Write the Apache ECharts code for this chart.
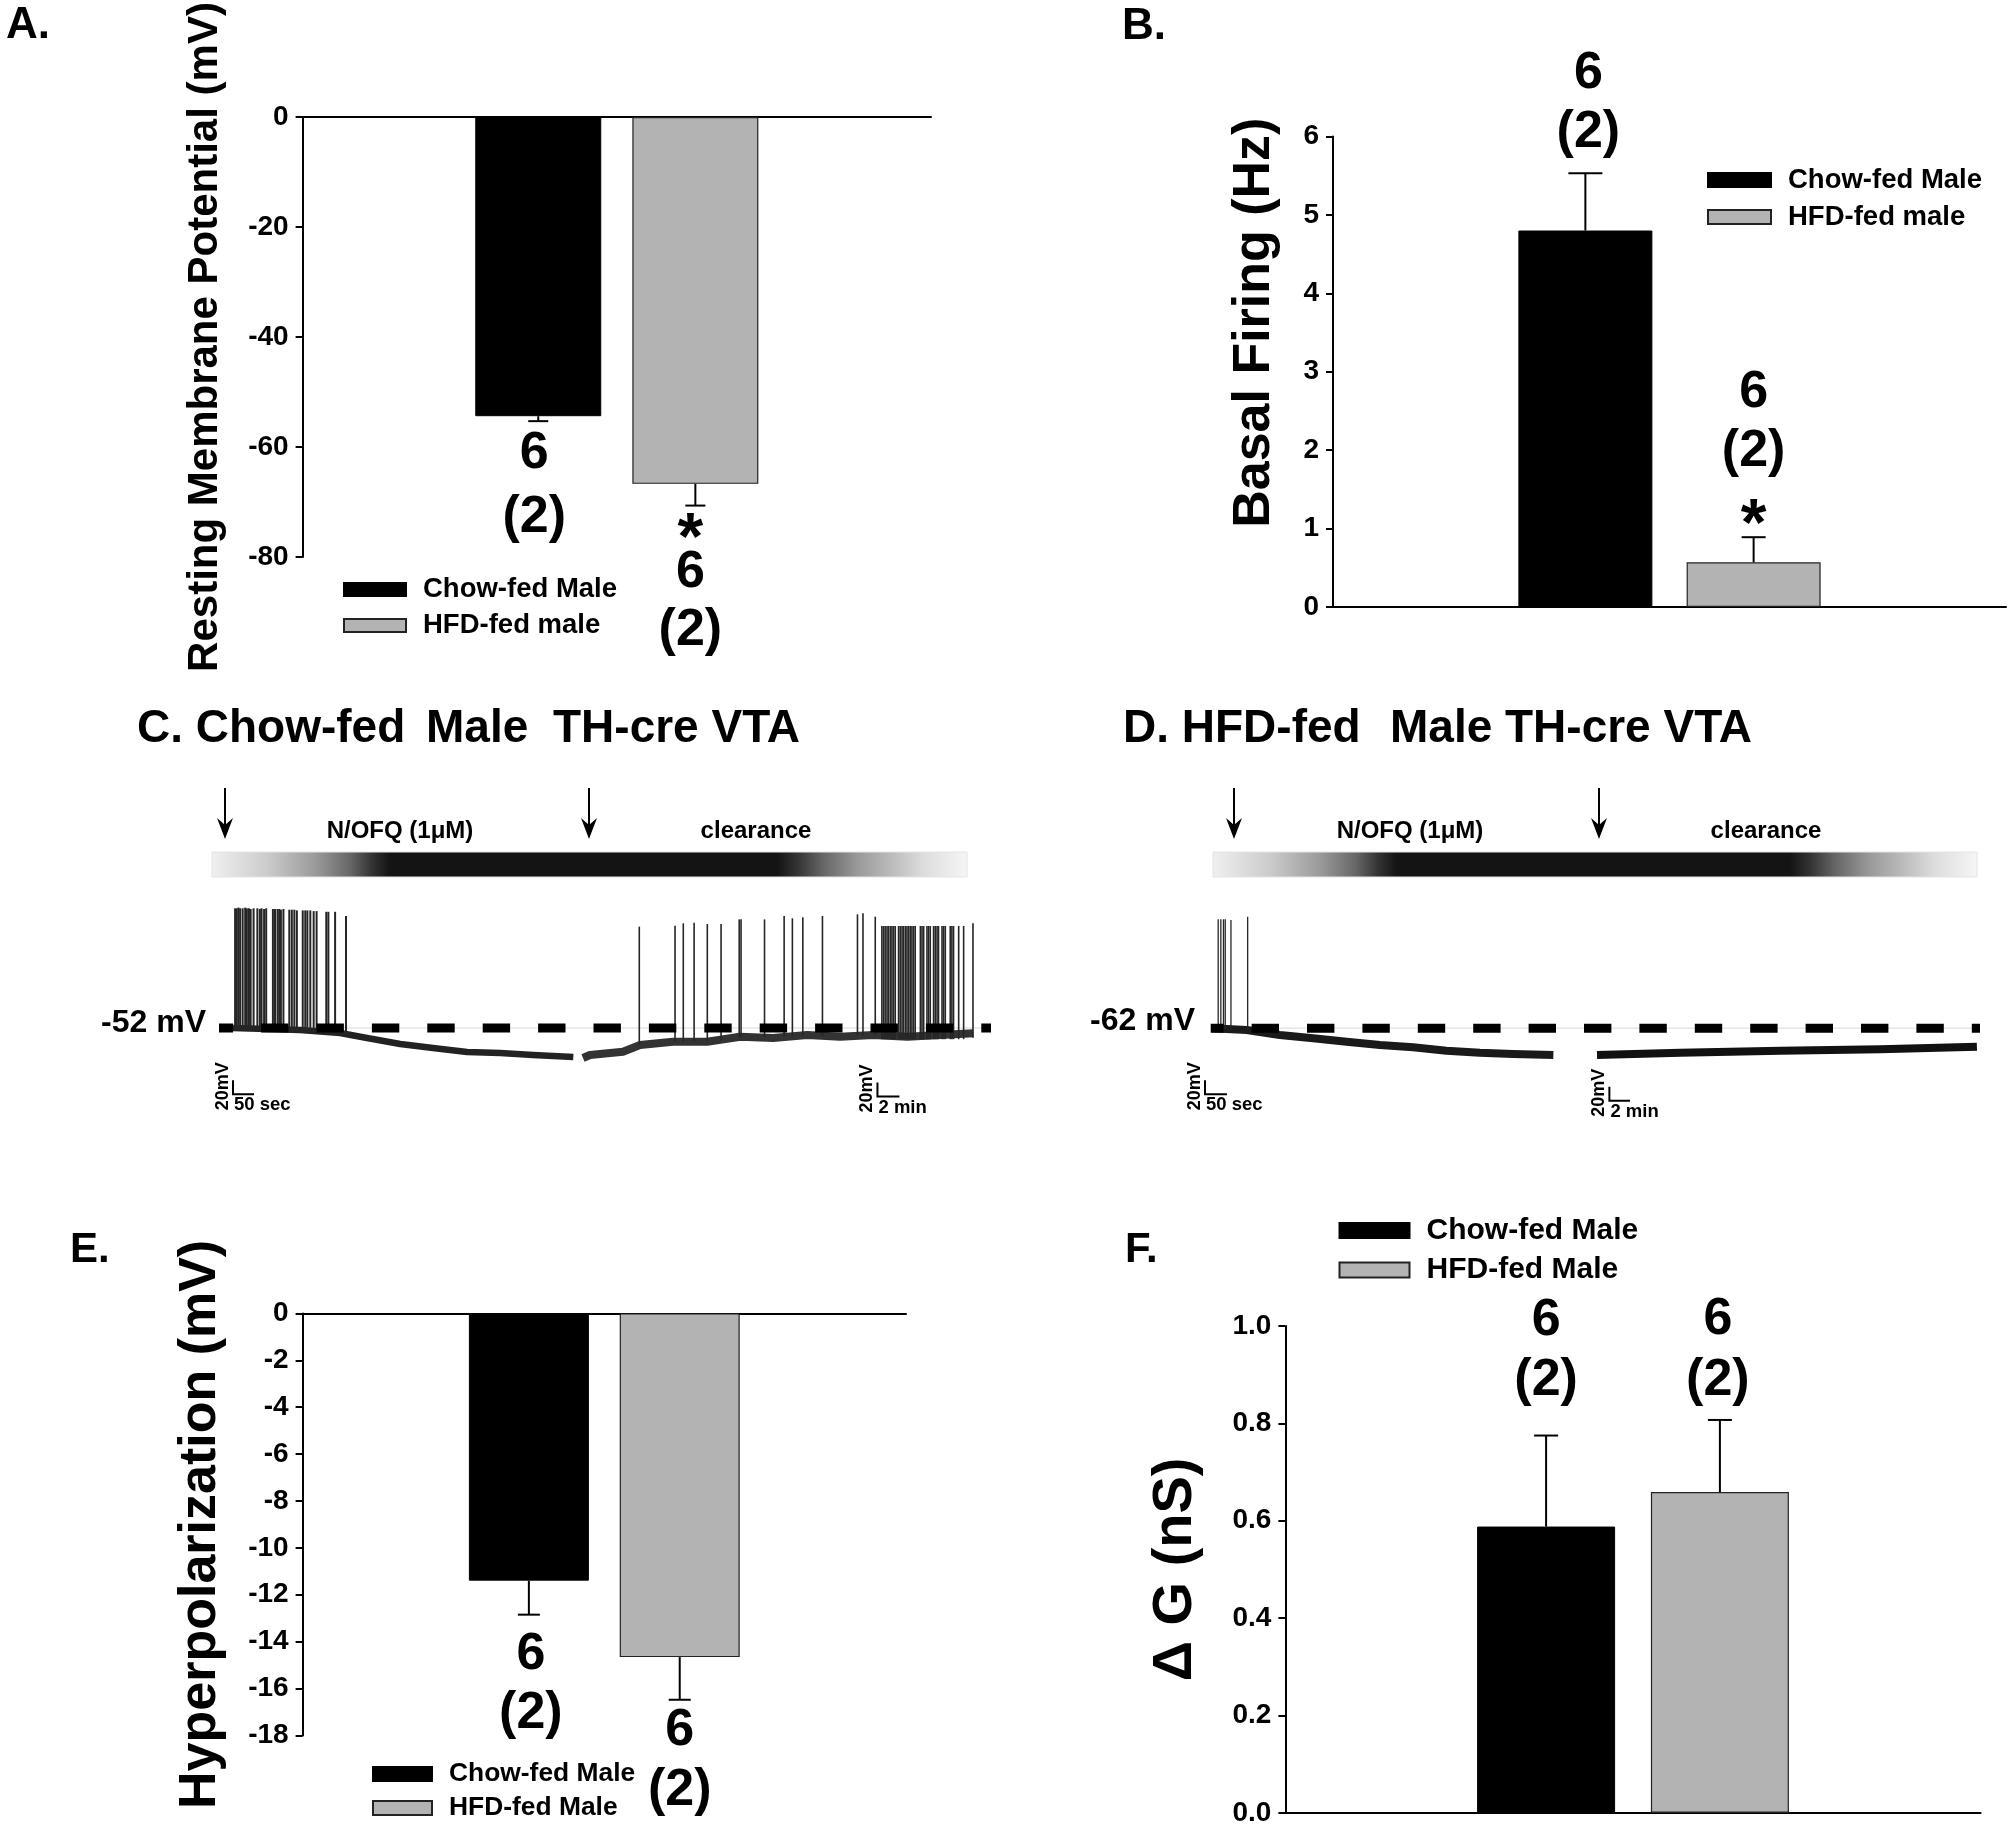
<!DOCTYPE html>
<html><head><meta charset="utf-8">
<script src="https://cdn.jsdelivr.net/npm/echarts@6.0.0/dist/echarts.min.js"></script>
<style>html,body{margin:0;padding:0;background:#fff;}#chart{width:2010px;height:1828px;}</style>
</head><body><div id="chart"></div>
<script>
// ================= DATA =================
const barSlots = ['', 'Chow-fed', 'HFD-fed', ''];
const namesAB = ['Chow-fed Male', 'HFD-fed male'];
const namesEF = ['Chow-fed Male', 'HFD-fed Male'];

// A. Resting membrane potential (mV)
const restingMean = [-54.4, -66.7];
const restingSem = [0.9, 3.95];
const restingTicks = [-80, -60, -40, -20, 0];
// B. Basal firing (Hz)
const firingMean = [4.8, 0.57];
const firingSem = [0.73, 0.32];
const firingTicks = [0, 1, 2, 3, 4, 5, 6];
// E. Hyperpolarization (mV)
const hyperMean = [-11.4, -14.66];
const hyperSem = [1.45, 1.82];
const hyperTicks = [-18, -16, -14, -12, -10, -8, -6, -4, -2, 0];
// F. Delta G (nS)
const dGMean = [0.588, 0.659];
const dGSem = [0.187, 0.148];
const dGTicks = [0, 0.2, 0.4, 0.6, 0.8, 1.0];

const nCells = [6, 6];
const nAnimals = [2, 2];
const sigAB = ['', '*'];
const sigEF = ['', ''];

// C / D traces: [time s, membrane potential mV]
const restC = -52;
const restD = -62;
const cSeg1Duration = 814;   // 50-sec scale segment
const cSeg2Duration = 2138;  // 2-min scale segment
const dSeg1Duration = 798;
const dSeg2Duration = 2227;

const cSeg1Trace = [[0,-52],[160,-54.9],[255,-59.1],[319,-66.3],[398,-74.9],[476,-80.6],[557,-86.3],[636,-87.7],[714,-90.6],[810,-93.4]];
const cSeg2Trace = [[0,-94.9],[38,-90.6],[218,-85.9],[311,-76.3],[491,-71.6],[677,-71.6],[857,-64.4],[1037,-66.3],[1223,-62],[1403,-64.4],[1583,-62],[1769,-64.4],[1949,-62],[2129,-59.6]];
const dSeg1Trace = [[15,-62],[19,-62],[95,-64.4],[170,-71.6],[246,-76.3],[322,-81.1],[398,-85.9],[473,-89.1],[549,-94],[625,-96.9],[700,-98.7],[792,-100.1]];
const dSeg2Trace = [[0,-100.1],[484,-96.9],[1066,-94],[1647,-92],[2209,-88.3]];

// spikes: [time s, foot mV, peak mV]
const cSeg1Spikes = [[5,-55,119],[9,-55,119],[13,-55,120],[17,-55,119],[23,-55,119],[29,-55,120],[33,-55,119],[38,-56,119],[42,-56,118],[49,-56,119],[58,-56,119],[64,-56,118],[68,-56,119],[74,-56,118],[79,-56,119],[95,-57,118],[100,-57,118],[106,-57,118],[110,-57,118],[114,-57,117],[120,-57,118],[134,-57,117],[140,-57,117],[146,-57,117],[152,-57,116],[166,-58,116],[172,-58,116],[177,-58,116],[184,-58,116],[192,-58,115],[199,-58,115],[222,-60,114],[227,-60,114],[243,-61,114],[269,-62,108]];
const cSeg2Spikes = [[307,-76,92.8],[502,-72,94.2],[547,-72,97.5],[606,-71,98.5],[678,-71,96.6],[753,-70,96.6],[852,-65,103.2],[862,-65,103.2],[990,-65,103.2],[1097,-64,108],[1142,-64,104.7],[1199,-63,106.1],[1306,-63,108],[1497,-63,110.4],[1527,-63,111.8],[1594,-62,107],
[1630,-68,93.7],[1639,-68,93.7],[1648,-68,93.7],[1658,-68,93.7],[1666,-68,93.7],[1676,-68,93.7],[1685,-68,93.7],[1694,-68,93.7],[1703,-68,93.7],[1721,-68,93.7],[1730,-68,93.7],[1740,-68,93.7],[1748,-68,93.7],[1758,-68,93.7],[1767,-68,93.7],[1776,-68,93.7],[1785,-68,93.7],[1794,-68,93.7],[1803,-68,93.7],[1812,-68,93.7],[1840,-68,93.7],[1849,-68,93.7],[1858,-68,93.7],[1876,-68,93.7],[1885,-68,93.7],[1894,-68,93.7],[1912,-68,93.7],[1921,-68,93.7],[1931,-68,93.7],[1939,-68,93.7],[1958,-68,93.7],[1967,-68,93.7],[1976,-68,93.7],[2003,-68,93.7],[2012,-68,93.7],[2021,-68,93.7],[2049,-68,93.7],[2076,-68,93.7],[2127,-66,97.5]];
const dSeg1Spikes = [[30,-63,93.7],[36,-63,93.7],[42,-63,93.7],[46,-63,93.7],[59,-64,92.7],[97,-65,97.4]];
const dSeg2Spikes = [];

// scale bars: [time s, mV, width s, height mV, time label]
const cSeg1Scale = [0, -146.7, 50, 20, '50 sec'];
const cSeg2Scale = [1606, -150, 120, 20, '2 min'];
const dSeg1Scale = [0, -156.3, 50, 20, '50 sec'];
const dSeg2Scale = [72, -165.4, 120, 20, '2 min'];

// ================= CHART =================
const FONT = "'Liberation Sans', Arial, Helvetica, sans-serif";
const chart = echarts.init(document.getElementById('chart'), null, {renderer: 'canvas'});

function txtStyle(text, size, align, vAlign) {
  return {text: text, fontSize: size, fontWeight: 'bold', fontFamily: FONT, fill: '#000',
    align: align || 'center', verticalAlign: vAlign || 'middle',
    textAlign: align || 'center', textVerticalAlign: vAlign || 'middle'};
}

const grids = [];
const xAxes = [];
const yAxes = [];
const series = [];

function barPanel(cfg) {
  const gi = grids.length;
  grids.push(cfg.grid);
  xAxes.push({type: 'category', gridIndex: gi, data: barSlots,
    axisLine: {show: true, onZero: true, lineStyle: {color: '#000', width: 2}},
    axisTick: {show: false}, axisLabel: {show: false}, splitLine: {show: false}});
  const t = cfg.ticks;
  yAxes.push({type: 'value', gridIndex: gi, min: t[0], max: t[t.length - 1], interval: +(t[1] - t[0]).toFixed(6),
    axisLine: {show: true, onZero: false, lineStyle: {color: '#000', width: 2}},
    axisTick: {show: true, length: 7, lineStyle: {color: '#000', width: 2}},
    splitLine: {show: false},
    axisLabel: {color: '#000', fontSize: 28, fontWeight: 'bold', fontFamily: FONT, margin: 14,
      formatter: cfg.fmt || (v => String(v))},
    name: cfg.title, nameLocation: 'middle', nameGap: cfg.nameGap, nameRotate: 90,
    nameTextStyle: {color: '#000', fontSize: cfg.titleSize, fontWeight: 'bold', fontFamily: FONT,
      padding: cfg.namePad || 0}});
  const m = cfg.means, s = cfg.sems;
  series.push({type: 'bar', name: cfg.names[0], xAxisIndex: gi, yAxisIndex: gi,
    data: barSlots.map((c, i) => i === 1 ? m[0] : '-'), barWidth: cfg.barWidth, barGap: '-100%',
    itemStyle: {color: '#000', borderColor: '#000', borderWidth: 1}, z: 2, silent: true});
  series.push({type: 'bar', name: cfg.names[1], xAxisIndex: gi, yAxisIndex: gi,
    data: barSlots.map((c, i) => i === 2 ? m[1] : '-'), barWidth: cfg.barWidth, barGap: '-100%',
    itemStyle: {color: '#b3b3b3', borderColor: '#222', borderWidth: 1.2}, z: 2, silent: true});
  // error bars + annotations
  series.push({type: 'custom', xAxisIndex: gi, yAxisIndex: gi, z: 5, clip: false, silent: true,
    data: m.map((v, i) => [i + 1, v, s[i]]),
    renderItem: function (params, api) {
      const i = params.dataIndex;
      const c = api.value(0), v = api.value(1), e = api.value(2);
      const dir = v < 0 ? -1 : 1;
      const p0 = api.coord([c, v]);
      const p1 = api.coord([c, v + dir * e]);
      const h = cfg.capHalf[i];
      const children = [
        {type: 'line', shape: {x1: p0[0], y1: p0[1], x2: p1[0], y2: p1[1]}, style: {stroke: '#000', lineWidth: 2}},
        {type: 'line', shape: {x1: p1[0] - h, y1: p1[1], x2: p1[0] + h, y2: p1[1]}, style: {stroke: '#000', lineWidth: 2}}
      ];
      const pxDir = v < 0 ? 1 : -1;
      cfg.ann[i].forEach(function (a) {
        let text, size = 52;
        if (a[0] === 'n') text = String(nCells[i]);
        else if (a[0] === 'a') text = '(' + nAnimals[i] + ')';
        else { text = cfg.sig[i]; size = 66; }
        if (!text) return;
        children.push({type: 'text', x: p1[0] + (a[2] || 0), y: p1[1] + pxDir * a[1], style: txtStyle(text, size)});
      });
      return {type: 'group', children: children};
    }});
}

barPanel({grid: {left: 302.6, top: 117, width: 628.4, height: 440}, ticks: restingTicks,
  means: restingMean, sems: restingSem, names: namesAB, barWidth: 126, capHalf: [10, 10],
  title: 'Resting Membrane Potential (mV)', titleSize: 42, nameGap: 76, sig: sigAB,
  ann: [[['n', 33, -4], ['a', 97, -4]], [['s', 35, -5], ['n', 67.5, -5], ['a', 125.5, -5]]]});
barPanel({grid: {left: 1333, top: 136.4, width: 673, height: 470.6}, ticks: firingTicks,
  means: firingMean, sems: firingSem, names: namesAB, barWidth: 134, capHalf: [17, 12],
  title: 'Basal Firing (Hz)', titleSize: 52, nameGap: 52, namePad: [0, 0, 0, 98], sig: sigAB,
  ann: [[['n', 100, 3], ['a', 41, 3]], [['s', 10, 0], ['a', 86, 0], ['n', 145, 0]]]});
barPanel({grid: {left: 302.6, top: 1313.4, width: 603.4, height: 422}, ticks: hyperTicks,
  means: hyperMean, sems: hyperSem, names: namesEF, barWidth: 120, capHalf: [11, 11],
  title: 'Hyperpolarization (mV)', titleSize: 52, nameGap: 76, sig: sigEF,
  ann: [[['n', 40, 2], ['a', 99, 2]], [['n', 31, 0], ['a', 91, 0]]]});
barPanel({grid: {left: 1285.4, top: 1326, width: 695.2, height: 486.8}, ticks: dGTicks,
  means: dGMean, sems: dGSem, names: namesEF, barWidth: 138, capHalf: [12, 12],
  title: '\u0394 G (nS)', titleSize: 56, nameGap: 82, sig: sigEF, fmt: v => v.toFixed(1),
  ann: [[['n', 115, 0], ['a', 54.5, 0]], [['n', 100, -2], ['a', 39, -2]]]});

// ---- trace panels ----
function traceGrid(box, xMax, yMin, yMax) {
  const gi = grids.length;
  grids.push(box);
  xAxes.push({type: 'value', gridIndex: gi, min: 0, max: xMax, show: false, splitLine: {show: false}});
  yAxes.push({type: 'value', gridIndex: gi, min: yMin, max: yMax, show: false, splitLine: {show: false}});
  return gi;
}
function traceSeries(gi, data, width, color) {
  series.push({type: 'line', xAxisIndex: gi, yAxisIndex: gi, data: data, symbol: 'none', silent: true,
    lineStyle: {width: width, color: color, join: 'round'}, z: 2});
}
function spikeSeries(gi, data, w) {
  if (!data.length) return;
  series.push({type: 'custom', xAxisIndex: gi, yAxisIndex: gi, data: data, z: 3, silent: true, clip: false,
    renderItem: function (p, api) {
      const a = api.coord([api.value(0), api.value(1)]);
      const b = api.coord([api.value(0), api.value(2)]);
      return {type: 'line', shape: {x1: a[0], y1: a[1], x2: b[0], y2: b[1]}, style: {stroke: '#262626', lineWidth: w}};
    }});
}
function scaleSeries(gi, sb) {
  series.push({type: 'custom', xAxisIndex: gi, yAxisIndex: gi, data: [sb.slice(0, 4)], z: 4, silent: true, clip: false,
    renderItem: function (p, api) {
      const c = api.coord([api.value(0), api.value(1)]);
      const top = api.coord([api.value(0), api.value(1) + api.value(3)]);
      const right = api.coord([api.value(0) + api.value(2), api.value(1)]);
      return {type: 'group', children: [
        {type: 'polyline', shape: {points: [top, c, right]}, style: {stroke: '#000', lineWidth: 2, fill: null}},
        {type: 'text', x: c[0] - 10, y: c[1] - 8, rotation: Math.PI / 2, style: txtStyle(sb[3] + 'mV', 18)},
        {type: 'text', x: c[0] + 1, y: c[1] + 11, style: txtStyle(sb[4], 18.5, 'left')}
      ]};
    }});
}
function restLine(gi, rest, offset) {
  series.push({type: 'line', xAxisIndex: gi, yAxisIndex: gi, data: [[0, rest], [1, rest]], symbol: 'none', silent: true,
    lineStyle: {color: '#e6e6e6', width: 1.5}, z: 1});
  series.push({type: 'line', xAxisIndex: gi, yAxisIndex: gi, data: [[0, rest], [1, rest]], symbol: 'none', silent: true,
    lineStyle: {color: '#000', width: 9, type: [27.4, 28], dashOffset: offset, cap: 'butt'}, z: 6});
}

const c1 = traceGrid({left: 233, top: 879.6, width: 342, height: 252}, cSeg1Duration, -200, 160);
const c2 = traceGrid({left: 583, top: 879.6, width: 392, height: 252}, cSeg2Duration, -200, 160);
const cr = traceGrid({left: 219, top: 879.6, width: 772, height: 252}, 1, -200, 160);
const d1 = traceGrid({left: 1205, top: 879.9, width: 351, height: 252}, dSeg1Duration, -210, 150);
const d2 = traceGrid({left: 1597, top: 879.9, width: 383, height: 252}, dSeg2Duration, -210, 150);
const dr = traceGrid({left: 1210.7, top: 879.9, width: 769.3, height: 252}, 1, -210, 150);

traceSeries(c1, cSeg1Trace, 6.5, '#222');
traceSeries(c2, cSeg2Trace, 8, '#333');
traceSeries(d1, dSeg1Trace, 8, '#1a1a1a');
traceSeries(d2, dSeg2Trace, 8, '#111');
spikeSeries(c1, cSeg1Spikes, 2);
spikeSeries(c2, cSeg2Spikes, 1.6);
spikeSeries(d1, dSeg1Spikes, 1.3);
spikeSeries(d2, dSeg2Spikes, 1.3);
scaleSeries(c1, cSeg1Scale);
scaleSeries(c2, cSeg2Scale);
scaleSeries(d1, dSeg1Scale);
scaleSeries(d2, dSeg2Scale);
restLine(cr, restC, 13.3);
restLine(dr, restD, 14.5);

// ---- legends ----
function legendCfg(left, rectTop, w, h, lh, gap, size, data) {
  return {left: left, top: rectTop - (lh - h) / 2, orient: 'vertical', padding: 0, icon: 'rect',
    itemWidth: w, itemHeight: h, itemGap: gap - lh, selectedMode: false, data: data,
    textStyle: {fontSize: size, fontWeight: 'bold', fontFamily: FONT, color: '#000', lineHeight: lh, padding: [0, 0, 0, 12]}};
}
const legends = [
  legendCfg(343, 581, 62, 13, 24, 32, 27.5, namesAB),
  legendCfg(1707, 171, 63, 14, 24, 33, 27.5, namesAB),
  legendCfg(372, 1766, 59, 14, 24, 32, 26.4, namesEF),
  legendCfg(1338.5, 1221, 70, 15, 26, 35.5, 30, namesEF)
];

// ---- annotations (letters, titles, drug bars, arrows) ----
function T(x, y, text, size, align) { return {type: 'text', x: x, y: y, silent: true, style: txtStyle(text, size, align || 'left')}; }
function arrow(x) {
  return [{type: 'line', silent: true, shape: {x1: x, y1: 788, x2: x, y2: 830}, style: {stroke: '#000', lineWidth: 2}},
    {type: 'polygon', silent: true, shape: {points: [[x, 839], [x - 8, 818], [x, 825], [x + 8, 818]]}, style: {fill: '#000'}}];
}
function drugBar(x0, x1, darkStart, darkEnd) {
  const W = x1 - x0;
  const fin = [[0, '#f0f0f0'], [0.31, '#cccccc'], [0.59, '#999999'], [0.78, '#666666'], [0.9, '#333333'], [1, '#141414']];
  const fout = [[0, '#141414'], [0.105, '#333333'], [0.24, '#666666'], [0.42, '#999999'], [0.6, '#bbbbbb'], [0.77, '#dddddd'], [1, '#f6f6f6']];
  const stops = [];
  fin.forEach(s => stops.push({offset: (s[0] * (darkStart - x0)) / W, color: s[1]}));
  fout.forEach(s => stops.push({offset: (darkEnd - x0 + s[0] * (x1 - darkEnd)) / W, color: s[1]}));
  return {type: 'rect', silent: true, shape: {x: x0, y: 852, width: W, height: 25},
    style: {fill: new echarts.graphic.LinearGradient(0, 0, 1, 0, stops), stroke: '#e4e4e4', lineWidth: 1}};
}

const graphics = [
  T(6, 26, 'A.', 44), T(1122, 27, 'B.', 44), T(70, 1250, 'E.', 42), T(1125, 1250, 'F.', 42),
  T(137, 729, 'C. Chow-fed', 46), T(426, 729, 'Male', 46), T(553, 729, 'TH-cre VTA', 46),
  T(1123, 729, 'D. HFD-fed', 46), T(1390, 729, 'Male', 46), T(1505, 729, 'TH-cre VTA', 46),
  drugBar(212, 967, 390, 777), drugBar(1213, 1977, 1397, 1790),
  T(400, 831, 'N/OFQ (1\u03bcM)', 24, 'center'), T(756, 831, 'clearance', 24, 'center'),
  T(1410, 831, 'N/OFQ (1\u03bcM)', 24, 'center'), T(1766, 831, 'clearance', 24, 'center'),
  T(206, 1023, restC + ' mV', 32, 'right'), T(1195, 1021, restD + ' mV', 32, 'right')
].concat(arrow(225), arrow(589), arrow(1234), arrow(1599));

chart.setOption({
  backgroundColor: '#fff',
  animation: false,
  textStyle: {fontFamily: FONT},
  grid: grids,
  xAxis: xAxes,
  yAxis: yAxes,
  legend: legends,
  series: series,
  graphic: graphics
});
</script></body></html>
